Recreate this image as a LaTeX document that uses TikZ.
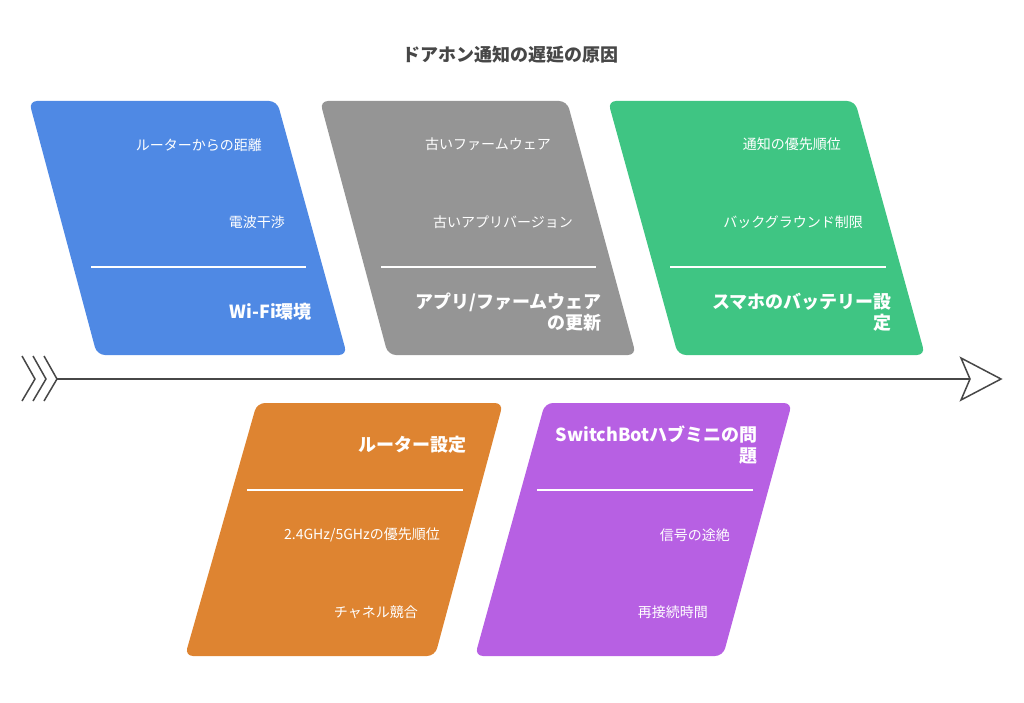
\documentclass[tikz,border=0pt]{standalone}
\usepackage{fontspec}
\setmainfont{Noto Sans CJK JP}
\definecolor{wifiblue}{HTML}{4F89E4}
\definecolor{firmgray}{HTML}{959595}
\definecolor{battgreen}{HTML}{3FC583}
\definecolor{routerorange}{HTML}{DE8431}
\definecolor{hubpurple}{HTML}{B760E3}
\definecolor{spinegray}{HTML}{474747}
\begin{document}
\begin{tikzpicture}[x=1pt, y=-1pt,
    box/.style={rounded corners=8pt},
    cause/.style={anchor=east, inner sep=0pt, text=white, font=\fontsize{14}{17}\selectfont},
    group/.style={anchor=east, inner sep=0pt, text=white, align=right, font=\bfseries\fontsize{18}{21}\selectfont},
    divider/.style={draw=white, line width=1.3pt},
    spine/.style={draw=spinegray, line width=1.8pt}]
    \useasboundingbox (0,0) rectangle (1024,703);

    % Title
    \node[text=spinegray, font=\bfseries\fontsize{18}{21}\selectfont] (title) at (510,55) {ドアホン通知の遅延の原因};

    % Boxes
    \fill[box, wifiblue] (29,101) -- (277,101) -- (347,355) -- (97,355) -- cycle;
    \fill[box, firmgray] (320,101) -- (567,101) -- (636,355) -- (388,355) -- cycle;
    \fill[box, battgreen] (608,101) -- (855,101) -- (925,355) -- (678,355) -- cycle;
    \fill[box, routerorange] (257,403) -- (503,403) -- (435,656) -- (185,656) -- cycle;
    \fill[box, hubpurple] (545,403) -- (792,403) -- (723,656) -- (475,656) -- cycle;

    % Dividers
    \draw[divider] (91,267) -- (306,267);
    \draw[divider] (381,267) -- (596,267);
    \draw[divider] (670,267) -- (886,267);
    \draw[divider] (247,490) -- (463,490);
    \draw[divider] (537,490) -- (753,490);

    % Causes
    \node[cause] (wifi1) at (262,145) {ルーターからの距離};
    \node[cause] (wifi2) at (285,222) {電波干渉};
    \node[group] (wifi) at (312,312) {Wi-Fi環境};

    \node[cause] (firm1) at (551,144) {古いファームウェア};
    \node[cause] (firm2) at (573,222) {古いアプリバージョン};
    \node[group] (firm) at (602,312) {アプリ/ファームウェア\\の更新};

    \node[cause] (batt1) at (841,144) {通知の優先順位};
    \node[cause] (batt2) at (863,222) {バックグラウンド制限};
    \node[group] (batt) at (892,312) {スマホのバッテリー設\\定};

    \node[group] (router) at (467,445) {ルーター設定};
    \node[cause] (router1) at (440,535) {2.4GHz/5GHzの優先順位};
    \node[cause] (router2) at (418,612) {チャネル競合};

    \node[group] (hub) at (758,445) {SwitchBotハブミニの問\\題};
    \node[cause] (hub1) at (730,535) {信号の途絶};
    \node[cause] (hub2) at (708,612) {再接続時間};

    % Spine
    \coordinate (tail) at (57,379);
    \coordinate (notch) at (970,379);
    \coordinate (tip) at (1001,379);
    \foreach \i in {0,11,22} {
        \draw[spine, line width=1.5pt] (22+\i,356) -- (35+\i,379) -- (22+\i,401);
    }
    \draw[spine] (tail) -- (notch);
    \draw[spine, line width=1.5pt, fill=white, line join=miter] (961,358) -- (tip) -- (961,400) -- (notch) -- cycle;

\end{tikzpicture}
\end{document}
